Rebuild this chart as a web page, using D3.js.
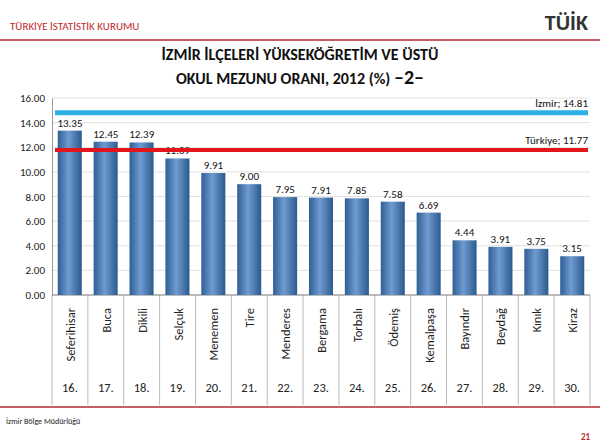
<!DOCTYPE html><html><head><meta charset="utf-8"><script src="https://d3js.org/d3.v7.min.js"></script>
<style>body{margin:0;background:#fff}text{font-family:Carlito,Calibri,"Open Sans",sans-serif}</style></head><body>
<svg id="c" width="600" height="446"></svg>
<script>
const categories=["Seferihisar","Buca","Dikili","Selçuk","Menemen","Tire","Menderes","Bergama","Torbalı","Ödemiş","Kemalpaşa","Bayındır","Beydağ","Kınık","Kiraz"];
const ranks=["16.","17.","18.","19.","20.","21.","22.","23.","24.","25.","26.","27.","28.","29.","30."];
const values=[13.35,12.45,12.39,11.09,9.91,9.00,7.95,7.91,7.85,7.58,6.69,4.44,3.91,3.75,3.15];
const yTicks=[0,2,4,6,8,10,12,14,16];
const izmir=14.81, turkiye=11.77;
const svg=d3.select("#c");
const defs=svg.append("defs");
const g=defs.append("linearGradient").attr("id","bg");
g.append("stop").attr("offset","0").attr("stop-color","#2f5f95");
g.append("stop").attr("offset","0.45").attr("stop-color","#6f9bd0");
g.append("stop").attr("offset","1").attr("stop-color","#2b5a8f");
svg.append("text").attr("x",10).attr("y",30).attr("font-size",11).attr("fill","#c0272d").text("TÜRKİYE İSTATİSTİK KURUMU");
svg.append("line").attr("x1",0).attr("x2",600).attr("y1",40).attr("y2",40).attr("stroke","#b2282e").attr("stroke-width",1.5);
svg.append("text").attr("x",588).attr("y",30).attr("text-anchor","end").attr("font-size",22).attr("font-weight","bold").attr("fill","#333").text("TÜİK");
svg.append("text").attr("x",300).attr("y",60).attr("text-anchor","middle").attr("font-size",16).attr("font-weight","bold").attr("fill","#111").text("İZMİR İLÇELERİ YÜKSEKÖĞRETİM VE ÜSTÜ");
svg.append("text").attr("x",300).attr("y",84).attr("text-anchor","middle").attr("font-size",16).attr("font-weight","bold").attr("fill","#111").text("OKUL MEZUNU ORANI, 2012 (%) ").append("tspan").attr("font-size",20).text("–2–");
const x=d3.scaleBand().domain(categories).range([52,590]).paddingInner(0.33).paddingOuter(0.16);
const xb=d3.scaleBand().domain(categories).range([52,590]);
const y=d3.scaleLinear().domain([0,16]).range([295,98]);
svg.append("g").selectAll("line").data(yTicks).join("line").attr("x1",52).attr("x2",590).attr("y1",d=>y(d)).attr("y2",d=>y(d)).attr("stroke","#ccc").attr("stroke-width",0.6);
svg.append("g").attr("transform","translate(52,0)").call(d3.axisLeft(y).tickValues(yTicks).tickFormat(d3.format(".2f")).tickSize(0)).call(a=>a.select(".domain").attr("stroke","#999")).call(a=>a.selectAll("text").attr("font-size",11).attr("fill","#222").attr("dx",-4));
svg.append("g").selectAll("line").data(d3.range(16)).join("line").attr("x1",i=>52+i*xb.bandwidth()).attr("x2",i=>52+i*xb.bandwidth()).attr("y1",295).attr("y2",405).attr("stroke","#aaa").attr("stroke-width",0.8);
svg.append("line").attr("x1",52).attr("x2",590).attr("y1",295).attr("y2",295).attr("stroke","#888");
svg.append("g").selectAll("rect").data(values).join("rect").attr("x",(d,i)=>x(categories[i])).attr("width",x.bandwidth()).attr("y",d=>y(d)).attr("height",d=>295-y(d)).attr("fill","url(#bg)");
svg.append("g").selectAll("text").data(values).join("text").attr("x",(d,i)=>xb(categories[i])+xb.bandwidth()/2).attr("y",d=>y(d)-4).attr("text-anchor","middle").attr("font-size",11).attr("fill","#111").text(d=>d.toFixed(2));
svg.append("line").attr("x1",55).attr("x2",588).attr("y1",y(izmir)).attr("y2",y(izmir)).attr("stroke","#2eb1e6").attr("stroke-width",5);
svg.append("line").attr("x1",55).attr("x2",588).attr("y1",y(turkiye)).attr("y2",y(turkiye)).attr("stroke","#e2151b").attr("stroke-width",4);
svg.append("text").attr("x",588).attr("y",y(izmir)-6).attr("text-anchor","end").attr("font-size",11).attr("fill","#111").text("İzmir; "+izmir);
svg.append("text").attr("x",588).attr("y",y(turkiye)-6).attr("text-anchor","end").attr("font-size",11).attr("fill","#111").text("Türkiye; "+turkiye);
svg.append("g").selectAll("text").data(categories).join("text").attr("transform",d=>`translate(${xb(d)+xb.bandwidth()/2+5},308) rotate(-90)`).attr("text-anchor","end").attr("font-size",12.5).attr("fill","#222").text(d=>d);
svg.append("g").selectAll("text").data(ranks).join("text").attr("x",(d,i)=>xb(categories[i])+xb.bandwidth()/2).attr("y",392).attr("text-anchor","middle").attr("font-size",12.5).attr("fill","#222").text(d=>d);
svg.append("line").attr("x1",0).attr("x2",600).attr("y1",407).attr("y2",407).attr("stroke","#b2282e").attr("stroke-width",1.5);
svg.append("text").attr("x",6).attr("y",424).attr("font-size",8).attr("fill","#222").text("İzmir Bölge Müdürlüğü");
svg.append("text").attr("x",590).attr("y",440).attr("text-anchor","end").attr("font-size",9).attr("font-weight","bold").attr("fill","#c0272d").text("21");
</script></body></html>
